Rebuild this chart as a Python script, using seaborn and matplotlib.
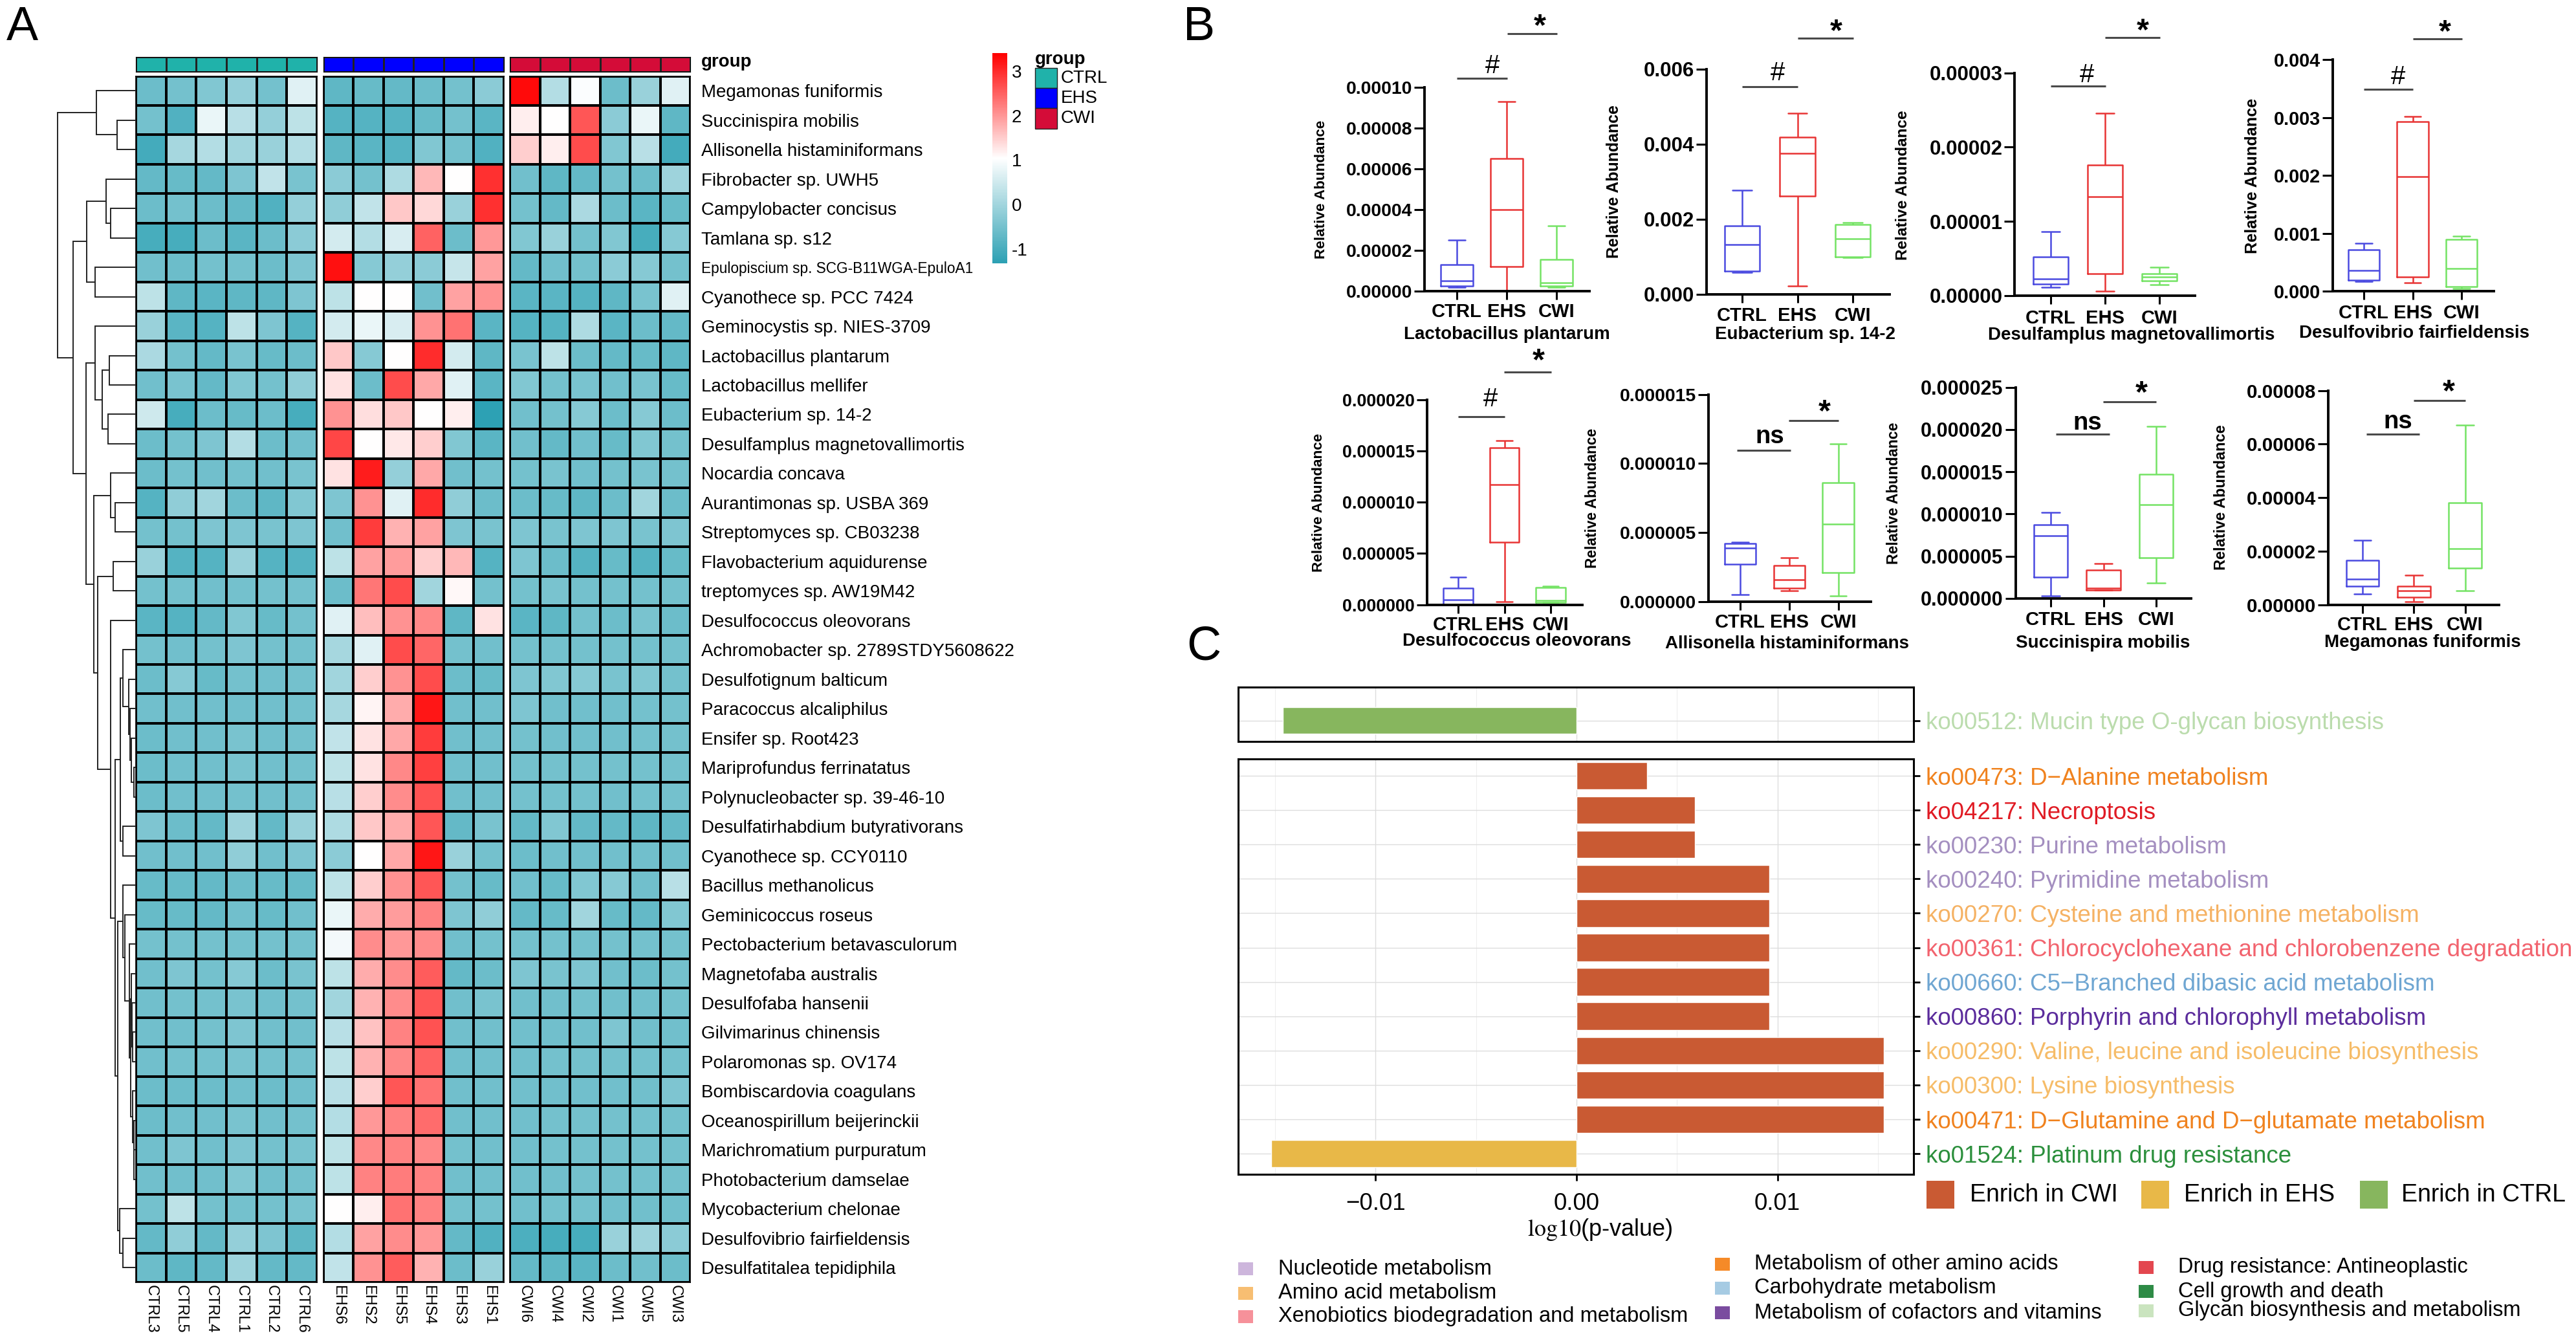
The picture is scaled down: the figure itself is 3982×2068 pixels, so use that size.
from matplotlib import pyplot as plt
from matplotlib.colors import LinearSegmentedColormap, ListedColormap
from matplotlib.cm import ScalarMappable
from matplotlib.colors import Normalize
from matplotlib.patches import Rectangle
import numpy as np
import pandas as pd
import seaborn as sns

W, H = 3982, 2068

# ---- panel A data
species = ['Megamonas funiformis', 'Succinispira mobilis', 'Allisonella histaminiformans', 'Fibrobacter sp. UWH5',
           'Campylobacter concisus', 'Tamlana sp. s12', 'Epulopiscium sp. SCG-B11WGA-EpuloA1', 'Cyanothece sp. PCC 7424',
           'Geminocystis sp. NIES-3709', 'Lactobacillus plantarum', 'Lactobacillus mellifer', 'Eubacterium sp. 14-2',
           'Desulfamplus magnetovallimortis', 'Nocardia concava', 'Aurantimonas sp. USBA 369', 'Streptomyces sp. CB03238',
           'Flavobacterium aquidurense', 'treptomyces sp. AW19M42', 'Desulfococcus oleovorans',
           'Achromobacter sp. 2789STDY5608622', 'Desulfotignum balticum', 'Paracoccus alcaliphilus', 'Ensifer sp. Root423',
           'Mariprofundus ferrinatatus', 'Polynucleobacter sp. 39-46-10', 'Desulfatirhabdium butyrativorans',
           'Cyanothece sp. CCY0110', 'Bacillus methanolicus', 'Geminicoccus roseus', 'Pectobacterium betavasculorum',
           'Magnetofaba australis', 'Desulfofaba hansenii', 'Gilvimarinus chinensis', 'Polaromonas sp. OV174',
           'Bombiscardovia coagulans', 'Oceanospirillum beijerinckii', 'Marichromatium purpuratum', 'Photobacterium damselae',
           'Mycobacterium chelonae', 'Desulfovibrio fairfieldensis', 'Desulfatitalea tepidiphila']
ctrl_samples = ['CTRL3', 'CTRL5', 'CTRL4', 'CTRL1', 'CTRL2', 'CTRL6']
ehs_samples = ['EHS6', 'EHS2', 'EHS5', 'EHS4', 'EHS3', 'EHS1']
cwi_samples = ['CWI6', 'CWI4', 'CWI2', 'CWI1', 'CWI5', 'CWI3']

ctrl_values = [
    [-0.6, -0.5, -0.35, -0.15, -0.5, 0.7], [-0.5, -0.9, 0.8, 0.25, -0.15, 0.3], [-1.05, 0.05, 0.2, 0.0, -0.1, 0.2],
    [-0.7, -0.65, -0.7, -0.4, 0.35, -0.45], [-0.6, -0.5, -0.6, -0.7, -0.9, -0.15], [-1.0, -1.0, -0.6, -0.8, -0.6, -0.25],
    [-0.55, -0.6, -0.5, -0.5, -0.6, -0.4], [0.3, -0.75, -0.8, -0.75, -0.75, -0.4], [-0.1, -0.8, -0.85, 0.3, -0.4, -0.85],
    [0.1, -0.5, -0.7, -0.45, -0.65, -0.6], [-0.55, -0.45, -0.7, -0.35, -0.5, -0.2], [0.5, -1.0, -0.6, -0.65, -0.6, -1.0],
    [-0.6, -0.5, -0.4, 0.2, -0.6, -0.55], [-0.6, -0.5, -0.55, -0.5, -0.55, -0.45], [-0.85, -0.2, 0.0, -0.6, -0.75, -0.35],
    [-0.5, -0.5, -0.4, -0.4, -0.45, -0.4], [-0.1, -0.85, -0.85, -0.1, -0.85, -0.85], [-0.5, -0.5, -0.55, -0.5, -0.5, -0.5],
    [-0.8, -0.85, -0.7, -0.35, -0.65, -0.5], [-0.5, -0.55, -0.5, -0.4, -0.5, -0.5], [-0.6, -0.3, -0.65, -0.5, -0.55, -0.5],
    [-0.55, -0.55, -0.55, -0.55, -0.55, -0.5], [-0.6, -0.55, -0.55, -0.45, -0.55, -0.5], [-0.6, -0.55, -0.55, -0.45, -0.55, -0.5],
    [-0.6, -0.55, -0.55, -0.5, -0.55, -0.5], [-0.4, -0.6, -0.7, -0.05, -0.7, -0.1], [-0.55, -0.55, -0.55, -0.2, -0.55, -0.4],
    [-0.65, -0.65, -0.7, -0.6, -0.65, -0.65], [-0.65, -0.65, -0.7, -0.55, -0.65, -0.55], [-0.5, -0.5, -0.5, -0.5, -0.5, -0.5],
    [-0.55, -0.4, -0.5, -0.3, -0.6, -0.45], [-0.55, -0.5, -0.5, -0.45, -0.55, -0.5], [-0.55, -0.55, -0.5, -0.4, -0.55, -0.55],
    [-0.55, -0.5, -0.5, -0.45, -0.5, -0.5], [-0.6, -0.6, -0.6, -0.55, -0.6, -0.55], [-0.6, -0.55, -0.55, -0.45, -0.55, -0.5],
    [-0.55, -0.4, -0.55, -0.4, -0.5, -0.45], [-0.55, -0.55, -0.55, -0.35, -0.55, -0.5], [-0.5, 0.3, -0.5, -0.5, -0.5, -0.45],
    [-0.7, -0.2, -0.7, -0.15, -0.4, -0.75], [-0.6, -0.75, -0.7, -0.05, -0.7, -0.7]]
ehs_values = [
    [-0.75, -0.65, -0.7, -0.6, -0.5, -0.25], [-0.85, -0.85, -0.85, -0.65, -0.5, -0.8], [-0.75, -0.8, -0.85, -0.35, -0.5, -0.9],
    [-0.25, -0.5, 0.15, 1.7, 1.04, 2.95], [-0.2, 0.35, 1.55, 1.4, -0.1, 2.95], [0.55, 0.2, 0.6, 2.5, -0.6, 2.0],
    [3.25, -0.3, -0.15, -0.25, 0.4, 1.9], [0.3, 1.04, 1.04, -0.55, 1.9, 2.05], [0.55, 0.8, 0.6, 2.05, 2.35, -0.8],
    [1.55, -0.3, 1.04, 3.0, 0.55, -0.75], [1.3, -0.6, 2.7, 1.85, 0.7, -0.8], [2.05, 1.35, 1.55, 1.04, 1.2, -1.3],
    [2.75, 1.04, 1.25, 1.5, -0.35, -0.8], [1.3, 3.15, -0.15, 1.85, -0.55, -0.5], [-0.4, 2.05, 0.7, 3.0, -0.2, -0.6],
    [-0.55, 2.85, 1.75, 1.9, -0.4, -0.45], [0.3, 1.9, 1.95, 1.5, 1.7, -0.85], [-0.6, 2.3, 2.7, 0.0, 1.1, -0.5],
    [0.7, 1.65, 2.05, 2.15, -0.75, 1.3], [0.05, 0.7, 2.7, 2.45, -0.5, -0.55], [0.0, 1.5, 2.05, 2.7, -0.6, -0.65],
    [0.05, 1.15, 1.8, 3.2, -0.55, -0.55], [0.35, 1.3, 1.85, 2.85, -0.55, -0.55], [0.3, 1.3, 2.15, 2.8, -0.55, -0.55],
    [0.25, 1.5, 2.1, 2.65, -0.55, -0.55], [0.15, 1.55, 1.8, 2.6, -0.7, -0.45], [-0.25, 1.04, 1.85, 3.2, -0.1, -0.5],
    [0.3, 1.5, 2.05, 2.6, -0.5, -0.65], [0.8, 1.8, 1.95, 2.2, -0.4, -0.2], [0.9, 2.1, 2.0, 2.1, -0.55, -0.5],
    [0.3, 1.8, 2.1, 2.55, -0.7, -0.6], [0.0, 1.75, 2.1, 2.6, -0.55, -0.45], [0.25, 1.6, 2.2, 2.65, -0.55, -0.55],
    [0.3, 1.75, 2.15, 2.5, -0.55, -0.55], [0.25, 1.5, 2.6, 2.35, -0.55, -0.55], [0.2, 2.0, 2.2, 2.4, -0.55, -0.55],
    [0.3, 2.15, 2.2, 2.15, -0.5, -0.55], [0.3, 2.2, 2.25, 2.2, -0.55, -0.55], [1.04, 1.2, 2.35, 2.2, -0.5, -0.5],
    [0.2, 1.9, 2.1, 2.0, -0.7, -0.9], [0.35, 2.05, 2.55, 1.75, -0.6, -0.1]]
cwi_values = [
    [3.3, 0.2, 1.0, -0.6, -0.1, 0.7], [1.2, 1.05, 2.6, -0.25, 0.8, -0.75], [1.5, 1.2, 2.7, -0.35, 0.25, -1.05],
    [-0.55, -0.75, -0.7, -0.5, -0.6, -0.05], [-0.5, -0.7, 0.1, -0.6, -0.8, -0.65], [-0.35, -0.1, -0.5, -0.35, -1.0, -0.3],
    [-0.7, -0.55, -0.5, -0.25, -0.3, -0.5], [-0.8, -0.8, -0.85, -0.75, -0.45, 0.7], [-0.85, -0.85, 0.15, -0.8, -0.6, -0.7],
    [-0.45, 0.3, -0.6, -0.7, -0.65, -0.75], [-0.35, -0.5, -0.45, -0.55, -0.45, -0.65], [-0.55, -0.5, -0.3, -0.6, -0.3, -0.6],
    [-0.55, -0.7, -0.55, -0.65, -0.35, -0.5], [-0.5, -0.45, -0.55, -0.5, -0.45, -0.5], [-0.6, -0.65, -0.75, -0.6, 0.0, -0.6],
    [-0.4, -0.45, -0.4, -0.4, -0.45, -0.4], [-0.4, -0.6, -0.85, -0.65, -0.85, -0.65], [-0.5, -0.45, -0.5, -0.5, -0.5, -0.5],
    [-0.8, -0.75, -0.5, -0.6, -0.45, -0.6], [-0.5, -0.5, -0.5, -0.5, -0.5, -0.5], [-0.4, -0.35, -0.3, -0.45, -0.35, -0.5],
    [-0.4, -0.55, -0.55, -0.55, -0.5, -0.5], [-0.5, -0.55, -0.55, -0.55, -0.5, -0.5], [-0.5, -0.5, -0.5, -0.5, -0.5, -0.5],
    [-0.5, -0.5, -0.5, -0.55, -0.5, -0.5], [-0.7, -0.35, -0.7, -0.7, -0.75, -0.7], [-0.6, -0.55, -0.55, -0.55, -0.55, -0.55],
    [-0.55, -0.65, -0.35, -0.3, -0.55, 0.25], [-0.7, -0.65, 0.0, -0.65, -0.7, -0.35], [-0.5, -0.5, -0.5, -0.5, -0.5, -0.5],
    [-0.4, -0.45, -0.4, -0.55, -0.6, -0.5], [-0.55, -0.55, -0.5, -0.55, -0.55, -0.5], [-0.55, -0.55, -0.55, -0.4, -0.55, -0.55],
    [-0.55, -0.5, -0.5, -0.5, -0.5, -0.5], [-0.55, -0.55, -0.55, -0.55, -0.55, -0.4], [-0.55, -0.5, -0.5, -0.5, -0.5, -0.5],
    [-0.55, -0.5, -0.5, -0.5, -0.5, -0.5], [-0.55, -0.55, -0.5, -0.5, -0.5, -0.5], [-0.55, -0.5, -0.5, -0.55, -0.55, -0.55],
    [-0.95, -1.0, -1.0, -0.1, -0.05, -0.25], [-0.7, -0.75, -0.8, -0.6, -0.55, -0.6]]

# row tree, each node is (height, child, child), a leaf is the row number
row_tree = (121,
            (61, 0, (29, 1, 2)),
            (97,
             (76.5, (46, 3, (39, 4, 5)), (63, 6, 7)),
             (77,
              (63, 8, (52, (41, 9, 10), (43.5, 11, 12))),
              (65,
               (38.6, 13, (31.6, 14, 15)),
               (59,
                (35, 16, 17),
                (38.6, 18,
                 (31.6,
                  (24.5, (19.6, 19, (11, 20, (9, 21, (7, 22, (3.5, 23, 24))))), (19.6, 25, 26)),
                  (28,
                   (19.6, 27, (17.5, 28, (10.5, 29, (8.4, (7, 30, (6, 31, (5, 32, 33))), (4.9, 34, (3.5, 35, (2.8, 36, 37))))))),
                   (25, 38, (19.6, 39, 40))))))))))

# ---- panel B data: min, q1, median, q3, max per group
groups = ['CTRL', 'EHS', 'CWI']
lacto = [[2e-6, 2.5e-6, 5e-6, 13e-6, 25e-6], [0, 12e-6, 40e-6, 65e-6, 93e-6], [2e-6, 2.5e-6, 4e-6, 15.5e-6, 32e-6]]
eubac = [[0.00058, 0.00062, 0.00132, 0.00183, 0.00278], [0.00023, 0.00262, 0.00376, 0.00418, 0.00482], [0.00098, 0.001, 0.00148, 0.00186, 0.00192]]
desulfam = [[1.1e-6, 1.6e-6, 2.3e-6, 5.2e-6, 8.6e-6], [0.6e-6, 3e-6, 13.3e-6, 17.6e-6, 24.6e-6], [1.5e-6, 2e-6, 2.5e-6, 3e-6, 3.8e-6]]
desulfov = [[0.00017, 0.00019, 0.00036, 0.00072, 0.00083], [0.00015, 0.00025, 0.00198, 0.00293, 0.00302], [0.00005, 0.00008, 0.00039, 0.0009, 0.00095]]
desulfoc = [[0, 0, 0.5e-6, 1.6e-6, 2.7e-6], [0.3e-6, 6.1e-6, 11.7e-6, 15.3e-6, 16e-6], [0.2e-6, 0.2e-6, 0.4e-6, 1.7e-6, 1.8e-6]]
allison = [[0.5e-6, 2.7e-6, 3.9e-6, 4.2e-6, 4.3e-6], [0.8e-6, 1e-6, 1.6e-6, 2.6e-6, 3.2e-6], [0.4e-6, 2.1e-6, 5.6e-6, 8.6e-6, 11.4e-6]]
succini = [[0.3e-6, 2.5e-6, 7.4e-6, 8.7e-6, 10.2e-6], [1e-6, 1e-6, 1.2e-6, 3.4e-6, 4.1e-6], [1.8e-6, 4.8e-6, 11.1e-6, 14.7e-6, 20.4e-6]]
megamon = [[4e-6, 6.8e-6, 9.5e-6, 16.5e-6, 24e-6], [1.2e-6, 2.8e-6, 5.2e-6, 6.8e-6, 11e-6], [5.3e-6, 13.8e-6, 21e-6, 38e-6, 67e-6]]

ticks_0001 = ['0.00000', '0.00002', '0.00004', '0.00006', '0.00008', '0.00010']
ticks_0006 = ['0.000', '0.002', '0.004', '0.006']
ticks_00003 = ['0.00000', '0.00001', '0.00002', '0.00003']
ticks_0004 = ['0.000', '0.001', '0.002', '0.003', '0.004']
ticks_00002 = ['0.000000', '0.000005', '0.000010', '0.000015', '0.000020']
ticks_000015 = ['0.000000', '0.000005', '0.000010', '0.000015']
ticks_000025 = ['0.000000', '0.000005', '0.000010', '0.000015', '0.000020', '0.000025']
ticks_00008 = ['0.00000', '0.00002', '0.00004', '0.00006', '0.00008']

# ---- panel C data
top_path = ['ko00512: Mucin type O-glycan biosynthesis']
top_value = [-0.0146]
top_enrich = ['Enrich in CTRL']
top_color = ['#BBDCAD']
pathways = ['ko00473: D\u2212Alanine metabolism', 'ko04217: Necroptosis', 'ko00230: Purine metabolism',
            'ko00240: Pyrimidine metabolism', 'ko00270: Cysteine and methionine metabolism',
            'ko00361: Chlorocyclohexane and chlorobenzene degradation', 'ko00660: C5\u2212Branched dibasic acid metabolism',
            'ko00860: Porphyrin and chlorophyll metabolism', 'ko00290: Valine, leucine and isoleucine biosynthesis',
            'ko00300: Lysine biosynthesis', 'ko00471: D\u2212Glutamine and D\u2212glutamate metabolism',
            'ko01524: Platinum drug resistance']
path_values = [0.0035, 0.0059, 0.0059, 0.0096, 0.0096, 0.0096, 0.0096, 0.0096, 0.0153, 0.0153, 0.0153, -0.0152]
path_enrich = ['Enrich in CWI'] * 11 + ['Enrich in EHS']
path_colors = ['#F0821E', '#E01B24', '#A48FC0', '#A48FC0', '#F5B264', '#F2636E', '#6FA6D2', '#5B2C9C',
               '#F6BC68', '#F6BC68', '#F0821E', '#2B8F3C']
enrich_palette = {'Enrich in CWI': '#C95A33', 'Enrich in EHS': '#E8B848', 'Enrich in CTRL': '#87B65E'}
kegg_names = [['Nucleotide metabolism', 'Amino acid metabolism', 'Xenobiotics biodegradation and metabolism'],
              ['Metabolism of other amino acids', 'Carbohydrate metabolism', 'Metabolism of cofactors and vitamins'],
              ['Drug resistance: Antineoplastic', 'Cell growth and death', 'Glycan biosynthesis and metabolism']]
kegg_colors = [['#CDB6DC', '#F7BE72', '#F6919A'], ['#F58A28', '#A6CBE3', '#7A4C9F'], ['#E3474F', '#2E8B46', '#CAE4BF']]

group_colors = ['#20B2AA', '#0000FF', '#D40C38']
box_colors = {'CTRL': '#4A4AE0', 'EHS': '#E83434', 'CWI': '#74E364'}

sns.set_theme(style='ticks', rc={'axes.edgecolor': 'black', 'xtick.color': 'black', 'ytick.color': 'black',
                                 'text.color': 'black', 'axes.labelcolor': 'black'})
plt.rcParams['font.family'] = ['Liberation Sans', 'DejaVu Sans']
plt.rcParams['mathtext.fontset'] = 'stix'

fig = plt.figure(figsize=(W / 100, H / 100), dpi=100, facecolor='white')


def px_axes(left, top, right, bottom):
    return fig.add_axes([left / W, 1 - bottom / H, (right - left) / W, (bottom - top) / H])


page = fig.add_axes([0, 0, 1, 1], zorder=10)
page.set_xlim(0, W)
page.set_ylim(H, 0)
page.axis('off')
page.patch.set_alpha(0)

# ---- A: heatmap
low, high = -1.33, 3.41
cmap = LinearSegmentedColormap.from_list('teal_red', ['#2BA0B3', '#FFFFFF', '#FF0000'])
top, bottom, ann_top, ann_bottom = 117.5, 1982, 88, 111
blocks = [(210, 490, ctrl_values, ctrl_samples, 0), (499.5, 779, ehs_values, ehs_samples, 1),
          (788, 1067, cwi_values, cwi_samples, 2)]
group_cmap = ListedColormap(group_colors)
for left, right, values, samples, code in blocks:
    ax = px_axes(left, top, right, bottom)
    sns.heatmap(pd.DataFrame(values, index=species, columns=samples), ax=ax, cmap=cmap, vmin=low, vmax=high, cbar=False,
                linewidths=1.5, linecolor='black', yticklabels=code == 2, xticklabels=True)
    ax.set_xlabel('')
    ax.set_ylabel('')
    ax.tick_params(axis='x', length=0, pad=3, labelsize=17, rotation=270)
    for s in ax.spines.values():
        s.set_visible(True)
        s.set_linewidth(1.2)
    if code == 2:
        ax.yaxis.tick_right()
        ax.tick_params(axis='y', length=0, pad=12, labelsize=20, rotation=0)
        ax.get_yticklabels()[6].set_fontsize(16.3)
    ann = px_axes(left, ann_top, right, ann_bottom)
    sns.heatmap(np.full((1, 6), code), ax=ann, cmap=group_cmap, vmin=0, vmax=2, cbar=False, linewidths=1,
                linecolor='#222222', xticklabels=False, yticklabels=False)
    for s in ann.spines.values():
        s.set_visible(True)
        s.set_linewidth(0.8)

page.text(1084, 96, 'group', fontsize=20, fontweight='bold', va='center')

# row dendrogram
dendro = px_axes(85, top, 210, bottom)
dendro.set_xlim(125, 0)
dendro.set_ylim(41, 0)
dendro.axis('off')


def draw_tree(node):
    if isinstance(node, int):
        return node + 0.5, 0
    height, first, second = node
    y1, h1 = draw_tree(first)
    y2, h2 = draw_tree(second)
    dendro.plot([h1, height, height, h2], [y1, y1, y2, y2], color='#222222', lw=1.4, solid_joinstyle='miter')
    return (y1 + y2) / 2, height


draw_tree(row_tree)

# colour bar and group key
cax = px_axes(1533.5, 82, 1557, 407.5)
cbar = fig.colorbar(ScalarMappable(norm=Normalize(low, high), cmap=cmap), cax=cax)
cbar.outline.set_visible(False)
cbar.set_ticks([-1, 0, 1, 2, 3])
cbar.ax.tick_params(length=0, pad=5, labelsize=20)
cbar.ax.set_yticklabels(['-1', '0', '1', '2', '3'])

page.text(1600, 92, 'group', fontsize=20, fontweight='bold', va='center')
for i, name in enumerate(groups):
    y = 104.6 + i * 31.4
    page.add_patch(Rectangle((1600, y), 34, 31.4, facecolor=group_colors[i], edgecolor='#222222', lw=1))
    page.text(1640, y + 16, name, fontsize=20, va='center')

# ---- B: box plots
panels = [
    dict(name='Lactobacillus plantarum', data=lacto, ticks=ticks_0001, vmax=0.0001, left=2202, right=2457, cats=(2252, 2406), base=450, top=135.3,
         tick_y=479, tick_size=20.5, title=(2329, 516.5), yl=(2042, 293, 16.2), sig1=(2252, 2330, 121, '#', 2307, 98), sig2=(2329.5, 2407, 52, '*', 2380.5, 33)),
    dict(name='Eubacterium sp. 14-2', data=eubac, ticks=ticks_0006, vmax=0.006, left=2637.5, right=2921, cats=(2693, 2864), base=455, top=106.7,
         tick_y=485, tick_size=22.5, title=(2790.6, 517), yl=(2495, 280.6, 17.9), sig1=(2693, 2779, 134, '#', 2748.5, 108.5), sig2=(2779, 2865, 58.5, '*', 2838, 40.6)),
    dict(name='Desulfamplus magnetovallimortis', data=desulfam, ticks=ticks_00003, vmax=0.00003, left=3114, right=3393, cats=(3170, 3338), base=457, top=112.6,
         tick_y=488, tick_size=22.5, title=(3295, 518), yl=(2942, 286, 17.5), sig1=(3170, 3255, 132.6, '#', 3226, 112), sig2=(3254, 3339, 58, '*', 3312.6, 39.6)),
    dict(name='Desulfovibrio fairfieldensis', data=desulfov, ticks=ticks_0004, vmax=0.004, left=3605.6, right=3855, cats=(3654, 3805), base=450, top=92.3,
         tick_y=481, tick_size=20.8, title=(3732, 515.5), yl=(3482, 272, 18.2), sig1=(3654, 3730, 137.7, '#', 3707, 115), sig2=(3730, 3806, 60, '*', 3779, 42)),
    dict(name='Desulfococcus oleovorans', data=desulfoc, ticks=ticks_00002, vmax=0.00002, left=2206, right=2445.5, cats=(2254, 2397), base=934.6, top=617.8,
         tick_y=962, tick_size=19.4, title=(2345, 991), yl=(2039, 777, 16.2), sig1=(2254, 2326, 644, '#', 2304, 613), sig2=(2325, 2398, 575, '*', 2378.6, 550)),
    dict(name='Allisonella histaminiformans', data=allison, ticks=ticks_000015, vmax=0.000015, left=2640.7, right=2892, cats=(2690, 2841.6), base=930, top=609.6,
         tick_y=958, tick_size=20.5, title=(2763, 995), yl=(2461.5, 770, 16.4), sig1=(2685, 2768, 696, 'ns', 2735.7, 674), sig2=(2765, 2842, 650, '*', 2820.5, 629.5)),
    dict(name='Succinispira mobilis', data=succini, ticks=ticks_000025, vmax=0.000025, left=3115.5, right=3387, cats=(3170, 3333), base=925, top=598.6,
         tick_y=954.5, tick_size=22, title=(3251, 993.6), yl=(2927, 762, 16.7), sig1=(3178, 3261, 670.6, 'ns', 3227, 652.7), sig2=(3251, 3333, 621, '*', 3310, 599.6)),
    dict(name='Megamonas funiformis', data=megamon, ticks=ticks_00008, vmax=0.00008, left=3599, right=3863, cats=(3652, 3810.5), base=934.6, top=603.6,
         tick_y=962, tick_size=21.3, title=(3745, 993), yl=(3434, 769, 17), sig1=(3658, 3740, 670.6, 'ns', 3706.7, 651), sig2=(3731, 3811, 619, '*', 3785.6, 598)),
]

for p in panels:
    ax = px_axes(p['left'], p['top'], p['right'], p['base'])
    long = pd.DataFrame([(g, v) for g, vals in zip(groups, p['data']) for v in vals], columns=['group', 'abundance'])
    sns.boxplot(data=long, x='group', y='abundance', hue='group', palette=box_colors, order=groups, hue_order=groups,
                dodge=False, fill=False, whis=(0, 100), width=0.64, linewidth=1.8, showfliers=False, capwidths=0.34,
                legend=False, ax=ax)
    spacing = (p['cats'][1] - p['cats'][0]) / 2
    ax.set_xlim((p['left'] - p['cats'][0]) / spacing, (p['right'] - p['cats'][0]) / spacing)
    ax.set_ylim(0, p['vmax'])
    ax.set_yticks(np.linspace(0, p['vmax'], len(p['ticks'])))
    ax.set_yticklabels(p['ticks'], fontsize=p['tick_size'], fontweight='bold')
    ax.set_xticks([0, 1, 2])
    ax.set_xticklabels(groups, fontsize=21, fontweight='bold')
    ax.set_xlabel('')
    ax.set_ylabel('')
    ax.tick_params(axis='y', length=11.5, width=2.2, pad=2)
    # x label height comes from the reference tick label centre
    ax.tick_params(axis='x', length=9, width=2.2, pad=max(0, p['tick_y'] - 10.5 - p['base'] - 12.5) * 0.72)
    sns.despine(ax=ax)
    ax.spines['left'].set_linewidth(2.8)
    ax.spines['bottom'].set_linewidth(2.8)
    ax.patch.set_alpha(0)

    page.text(p['title'][0], p['title'][1], p['name'], fontsize=20, fontweight='bold', ha='center', va='center')
    page.text(p['yl'][0], p['yl'][1], 'Relative Abundance', fontsize=p['yl'][2], fontweight='bold', rotation=90, ha='center', va='center')
    for x1, x2, y, mark, mx, my in (p['sig1'], p['sig2']):
        page.plot([x1, x2], [y, y], color='#4A4A4A', lw=2.2, solid_capstyle='butt')
        if mark == '*':
            page.text(mx, my + 21, mark, fontsize=35, fontweight='bold', ha='center', va='baseline')
        elif mark == '#':
            page.text(mx, my + 15, mark, fontsize=29, ha='center', va='baseline')
        else:
            page.text(mx, my + 11, mark, fontsize=27.5, fontweight='bold', ha='center', va='baseline')

# ---- C: enrichment bars
box_left, box_right = 1913.5, 2958
x_limits = (-0.01685, 0.01677)


def enrich_axes(top_px, bottom_px, labels, values, enrich, colors, y_limits, show_x):
    ax = px_axes(box_left, top_px, box_right, bottom_px)
    frame = pd.DataFrame({'path': labels, 'value': values, 'enrich': enrich})
    sns.barplot(data=frame, x='value', y='path', hue='enrich', palette=enrich_palette, dodge=False, width=0.8, orient='h',
                saturation=1, legend=False, ax=ax)
    ax.set_xlim(*x_limits)
    ax.set_ylim(*y_limits)
    ax.set_axisbelow(True)
    ax.set_xticks([-0.01, 0, 0.01])
    ax.set_xticks([-0.015, -0.005, 0.005, 0.015], minor=True)
    ax.grid(which='major', color='#DDDDDD', lw=1)
    ax.grid(which='minor', axis='x', color='#EEEEEE', lw=0.8)
    ax.tick_params(which='minor', length=0)
    ax.yaxis.tick_right()
    ax.tick_params(axis='y', length=7, width=2, pad=7, labelsize=26.5)
    for tick, c in zip(ax.get_yticklabels(), colors):
        tick.set_color(c)
    ax.set_xlabel('')
    ax.set_ylabel('')
    if show_x:
        ax.set_xticklabels(['\u22120.01', '0.00', '0.01'], fontsize=26.5)
        ax.tick_params(axis='x', which='major', length=7, width=2, pad=13)
    else:
        ax.tick_params(axis='x', which='both', length=0, labelbottom=False)
    for s in ax.spines.values():
        s.set_visible(True)
        s.set_linewidth(2.2)
    return ax


enrich_axes(1061.6, 1146, top_path, top_value, top_enrich, top_color, (0.63, -1.02), False)
enrich_axes(1173, 1815, pathways, path_values, path_enrich, path_colors, (11.6, -0.49), True)

page.text(2473, 1900, r'$\mathrm{log10}$(p-value)', fontsize=26, ha='center', va='center')

for sq_x, text_x, name in [(2978, 3045, 'Enrich in CWI'), (3310, 3376, 'Enrich in EHS'), (3648, 3712, 'Enrich in CTRL')]:
    page.add_patch(Rectangle((sq_x, 1825), 43, 42.6, facecolor=enrich_palette[name], edgecolor='none'))
    page.text(text_x, 1846.6, name, fontsize=27, va='center')

kegg_sq_x = [1913.5, 2651, 3306]
kegg_text_x = [1976.4, 2711.7, 3366.6]
kegg_y = [[1961, 1998.7, 2034.8], [1954, 1991, 2029], [1959, 1996, 2025.6]]
for col in range(3):
    for row in range(3):
        y = kegg_y[col][row]
        page.add_patch(Rectangle((kegg_sq_x[col], y - 10), 23, 20, facecolor=kegg_colors[col][row], edgecolor='none'))
        page.text(kegg_text_x[col], y, kegg_names[col][row], fontsize=23.5, va='center')

# panel letters
page.text(10, 62, 'A', fontsize=53, va='baseline')
page.text(1829, 62, 'B', fontsize=53, va='baseline')
page.text(1834, 1020, 'C', fontsize=53, va='baseline')

fig.savefig('out.png', dpi=100)
